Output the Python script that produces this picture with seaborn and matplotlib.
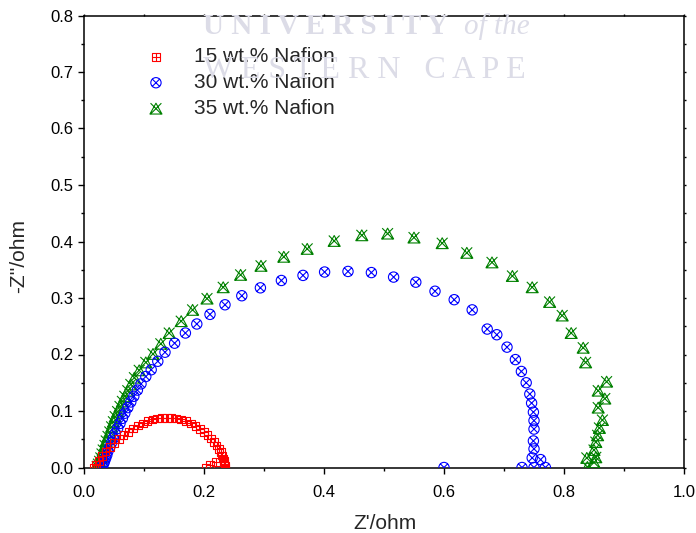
import numpy as np
import pandas as pd
import matplotlib
matplotlib.use("Agg")
import matplotlib.pyplot as plt
from matplotlib.path import Path
import seaborn as sns

# Nyquist data: Z' (real) and -Z'' (imaginary) in ohm
z_re_15 = [0.017, 0.020, 0.025, 0.030, 0.036, 0.043, 0.050, 0.058, 0.066, 0.074,
           0.082, 0.090, 0.098, 0.106, 0.114, 0.122, 0.130, 0.138, 0.146, 0.154,
           0.162, 0.170, 0.178, 0.186, 0.193, 0.200, 0.206, 0.212, 0.217, 0.221,
           0.225, 0.228, 0.230, 0.232, 0.233, 0.234, 0.235, 0.235, 0.220, 0.210, 0.203]
z_im_15 = [0.000, 0.005, 0.012, 0.020, 0.028, 0.036, 0.043, 0.050, 0.057, 0.063,
           0.069, 0.074, 0.078, 0.082, 0.085, 0.087, 0.088, 0.088, 0.088, 0.087,
           0.085, 0.082, 0.078, 0.073, 0.068, 0.063, 0.057, 0.051, 0.045, 0.039,
           0.033, 0.027, 0.021, 0.016, 0.011, 0.007, 0.003, 0.000, 0.010, 0.005, 0.000]

z_re_30 = [0.030, 0.032, 0.034, 0.036, 0.038, 0.040, 0.043, 0.046, 0.049, 0.052,
           0.056, 0.060, 0.064, 0.068, 0.073, 0.078, 0.083, 0.089, 0.095, 0.103,
           0.112, 0.123, 0.135, 0.151, 0.169, 0.188, 0.210, 0.235, 0.263, 0.294,
           0.329, 0.365, 0.401, 0.440, 0.479, 0.516, 0.553, 0.585, 0.617, 0.647,
           0.672, 0.688, 0.705, 0.719, 0.729, 0.737, 0.743, 0.746, 0.749, 0.750,
           0.750, 0.749, 0.750, 0.747, 0.761, 0.750, 0.730, 0.769, 0.600]
z_im_30 = [0.001, 0.005, 0.010, 0.016, 0.022, 0.029, 0.036, 0.044, 0.052, 0.060,
           0.069, 0.078, 0.087, 0.096, 0.106, 0.116, 0.126, 0.137, 0.148, 0.161,
           0.173, 0.188, 0.204, 0.220, 0.238, 0.254, 0.271, 0.288, 0.304, 0.318,
           0.331, 0.340, 0.346, 0.347, 0.345, 0.337, 0.328, 0.312, 0.297, 0.279,
           0.245, 0.235, 0.213, 0.191, 0.170, 0.150, 0.130, 0.114, 0.098, 0.083,
           0.068, 0.047, 0.033, 0.017, 0.014, 0.000, 0.000, 0.000, 0.000]

z_re_35 = [0.022, 0.024, 0.026, 0.028, 0.030, 0.032, 0.035, 0.037, 0.040, 0.043,
           0.046, 0.049, 0.052, 0.056, 0.060, 0.064, 0.068, 0.073, 0.078, 0.084,
           0.092, 0.103, 0.115, 0.128, 0.142, 0.162, 0.181, 0.205, 0.232, 0.261,
           0.295, 0.333, 0.372, 0.417, 0.463, 0.506, 0.550, 0.597, 0.638, 0.680,
           0.714, 0.747, 0.776, 0.797, 0.812, 0.832, 0.836, 0.871, 0.857, 0.868,
           0.857, 0.864, 0.859, 0.856, 0.853, 0.850, 0.853, 0.838, 0.850, 0.839]
z_im_35 = [0.002, 0.006, 0.011, 0.017, 0.024, 0.031, 0.039, 0.047, 0.055, 0.063,
           0.072, 0.081, 0.090, 0.099, 0.108, 0.117, 0.126, 0.136, 0.147, 0.159,
           0.172, 0.186, 0.201, 0.219, 0.238, 0.259, 0.279, 0.299, 0.319, 0.341,
           0.357, 0.373, 0.387, 0.401, 0.411, 0.414, 0.407, 0.397, 0.380, 0.363,
           0.339, 0.319, 0.293, 0.269, 0.238, 0.212, 0.186, 0.152, 0.136, 0.122,
           0.106, 0.084, 0.070, 0.057, 0.045, 0.031, 0.018, 0.017, 0.009, 0.001]

labels = ["15 wt.% Nafion", "30 wt.% Nafion", "35 wt.% Nafion"]
colors = ["#ff0000", "#0000ff", "#008000"]

# Open symbols with crossing lines
sq_plus = Path(
    [(-1, -1), (1, -1), (1, 1), (-1, 1), (-1, -1), (-1, 0), (1, 0), (0, -1), (0, 1)],
    [Path.MOVETO, Path.LINETO, Path.LINETO, Path.LINETO, Path.CLOSEPOLY,
     Path.MOVETO, Path.LINETO, Path.MOVETO, Path.LINETO])
c = 0.7071
circ_x = Path.make_compound_path(
    Path.unit_circle(),
    Path([(-c, -c), (c, c), (-c, c), (c, -c)],
         [Path.MOVETO, Path.LINETO, Path.MOVETO, Path.LINETO]))
tri_x = Path(
    [(-1, -0.9), (1, -0.9), (0, 0.9), (-1, -0.9), (-0.9, 0.9), (0.9, -0.9), (0.9, 0.9), (-0.9, -0.9)],
    [Path.MOVETO, Path.LINETO, Path.LINETO, Path.CLOSEPOLY,
     Path.MOVETO, Path.LINETO, Path.MOVETO, Path.LINETO])

series = [
    (z_re_15, z_im_15, sq_plus, 30),
    (z_re_30, z_im_30, circ_x, 55),
    (z_re_35, z_im_35, tri_x, 75),
]

sns.set_style("ticks")
plt.rcParams["font.family"] = ["Liberation Sans", "DejaVu Sans"]

fig = plt.figure(figsize=(6.96, 5.33), dpi=100)
ax = fig.add_axes([84 / 696, 65.5 / 533, 600 / 696, 452 / 533])

# watermark text
wm = "#dcdce7"
fig.text(203 / 696, 1 - 27 / 533, "U N I V E R S I T Y", ha="left", va="center",
         fontsize=21, family="Liberation Serif", weight="bold", color=wm, zorder=0)
fig.text(530 / 696, 1 - 27 / 533, "of the", ha="right", va="center", fontsize=21,
         family="Liberation Serif", style="italic", color=wm, zorder=0)
fig.text(203 / 696, 1 - 70 / 533, "W E S T E R N   C A P E", ha="left", va="center",
         fontsize=23, family="Liberation Serif", color=wm, zorder=0)

for idx in [2, 1, 0]:
    xs, ys, mk, sz = series[idx]
    df = pd.DataFrame({"x": xs, "y": ys})
    sns.scatterplot(data=df, x="x", y="y", ax=ax, marker=mk, s=sz,
                    color=colors[idx], facecolor="none", edgecolor=colors[idx],
                    linewidth=0.8, label=labels[idx], legend=False, zorder=3)

ax.patch.set_alpha(0)

h, l = ax.get_legend_handles_labels()
order = [l.index(t) for t in labels]
ax.legend([h[i] for i in order], labels, loc="upper left",
          bbox_to_anchor=(0.08, 0.948), frameon=False, fontsize=15,
          handletextpad=1.1, labelspacing=0.33, borderaxespad=0.0,
          handlelength=1.5)

ax.set_xlim(0.0, 1.0)
ax.set_ylim(0.0, 0.8)
ax.set_xticks(np.arange(0, 1.01, 0.2))
ax.set_xticks(np.arange(0, 1.01, 0.1), minor=True)
ax.set_yticks(np.arange(0, 0.81, 0.1))
ax.set_yticks(np.arange(0, 0.81, 0.05), minor=True)
ax.xaxis.set_major_formatter(matplotlib.ticker.FormatStrFormatter("%.1f"))
ax.yaxis.set_major_formatter(matplotlib.ticker.FormatStrFormatter("%.1f"))
ax.tick_params(axis="both", which="major", direction="out", length=4.3, width=1,
               labelsize=12, color="black", labelcolor="black")
ax.tick_params(axis="both", which="minor", direction="out", length=2.4, width=1,
               color="black")
ax.tick_params(axis="x", which="major", pad=8)
ax.tick_params(axis="y", which="major", pad=3.5)
# short marks on the top and right edges of the frame
ax.tick_params(axis="both", which="both", top=True, right=True)
ax.tick_params(axis="x", which="both", labeltop=False)
ax.tick_params(axis="y", which="both", labelright=False)
for t in ax.xaxis.get_major_ticks() + ax.xaxis.get_minor_ticks():
    t.tick2line.set_markersize(1.5)
for t in ax.yaxis.get_major_ticks() + ax.yaxis.get_minor_ticks():
    t.tick2line.set_markersize(1.5)
for side in ["top", "right", "left", "bottom"]:
    ax.spines[side].set_visible(True)
    ax.spines[side].set_color("black")
    ax.spines[side].set_linewidth(1.1)

ax.set_xlabel("Z'/ohm", fontsize=15)
ax.set_ylabel("-Z''/ohm", fontsize=15)
ax.xaxis.set_label_coords(0.502, (467.5 - 514) / 452)
ax.yaxis.set_label_coords((28 - 84) / 600, (467.5 - 256) / 452)

fig.savefig("out.png", dpi=100)
